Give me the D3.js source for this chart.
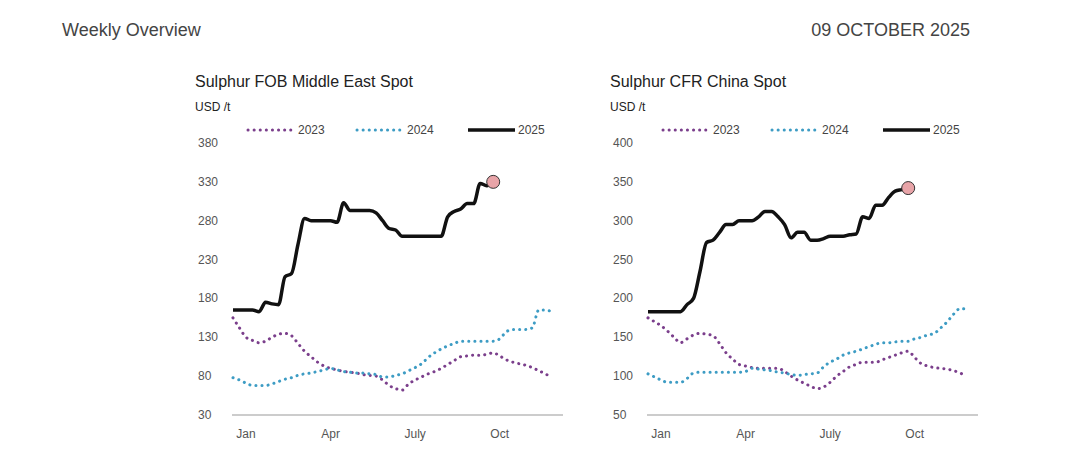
<!DOCTYPE html><html><head><meta charset="utf-8">
<script src="https://cdn.jsdelivr.net/npm/d3@7"></script>
<style>body{margin:0;background:#fff}text{font-family:"Liberation Sans",Arial,sans-serif}</style></head><body>
<svg id="c" width="1085" height="460"></svg>
<script>
const monthLabels=["Jan","Apr","July","Oct"];
const monthWeeks=[2,15,28,41];
const seriesNames=["2023","2024","2025"];
const me2023=[155,142,130,126,123,125,130,134,135,132,122,112,105,98,93,90,88,86,85,84,82,81,80,75,68,64,62,70,75,79,83,86,90,95,100,105,106,107,107,108,110,106,101,98,96,94,91,87,83,78];
const me2024=[78,75,71,68,68,68,70,73,76,78,81,83,84,86,88,90,88,86,85,84,84,83,82,79,79,81,83,87,91,96,104,110,115,119,122,125,125,125,125,125,125,128,137,140,140,140,142,165,165,163];
const me2025=[165,165,165,165,163,175,173,172,208,212,250,283,280,280,280,280,278,303,293,293,293,293,290,280,270,268,260,260,260,260,260,260,260,285,292,295,302,302,328,325,330];
const cn2023=[175,170,165,158,150,143,148,153,155,154,152,142,130,122,115,113,111,110,110,110,110,106,100,95,91,87,84,86,92,100,106,112,115,118,118,118,121,124,127,130,132,124,116,113,111,110,109,107,104,100];
const cn2024=[103,99,95,92,92,92,97,104,105,105,105,105,105,105,105,106,110,109,108,107,105,104,102,101,102,103,104,112,118,122,127,130,132,135,138,141,143,143,144,145,145,148,150,153,155,162,170,180,187,186];
const cn2025=[183,183,183,183,183,183,192,200,235,272,275,285,295,295,300,300,300,305,312,312,305,295,278,285,285,275,275,277,280,280,280,282,283,305,303,320,320,330,338,340,342];
const meTicks=[30,80,130,180,230,280,330,380];
const cnTicks=[50,100,150,200,250,300,350,400];
const svg=d3.select("#c");
svg.append("text").attr("x",62).attr("y",36).attr("font-size",18).attr("fill","#444").text("Weekly Overview");
svg.append("text").attr("x",970).attr("y",36).attr("font-size",18).attr("fill","#444").attr("text-anchor","end").text("09 OCTOBER 2025");
const colors=["#7b3f8c","#3d9cc4","#111"];
function chart(ox,title,ticks,data){
  const g=svg.append("g").attr("transform",`translate(${ox},0)`);
  const x=d3.scaleLinear().domain([0,49.5]).range([38,360]);
  const y=d3.scaleLinear().domain([ticks[0],ticks[ticks.length-1]]).range([415,143]);
  g.append("text").attr("x",0).attr("y",87).attr("font-size",16).attr("fill","#222").text(title);
  g.append("text").attr("x",0).attr("y",111).attr("font-size",12).attr("fill","#222").text("USD /t");
  ticks.forEach(t=>g.append("text").attr("x",3).attr("y",y(t)+4).attr("font-size",12).attr("fill","#555").text(t));
  g.append("line").attr("x1",37).attr("x2",368).attr("y1",415).attr("y2",415).attr("stroke","#bbb").attr("stroke-width",1.5);
  monthLabels.forEach((m,i)=>g.append("text").attr("x",x(monthWeeks[i])).attr("y",438).attr("font-size",12).attr("fill","#555").attr("text-anchor","middle").text(m));
  const line=d3.line().x((d,i)=>x(i)).y(d=>y(d)).curve(d3.curveMonotoneX);
  data.forEach((s,k)=>{
    const p=g.append("path").attr("d",line(s)).attr("fill","none").attr("stroke",colors[k]);
    if(k<2)p.attr("stroke-width",3).attr("stroke-dasharray","0.1,6").attr("stroke-linecap","round");
    else p.attr("stroke-width",3.5).attr("stroke-linejoin","round");
  });
  const last=data[2];
  g.append("circle").attr("cx",x(last.length-1)).attr("cy",y(last[last.length-1])).attr("r",6.5).attr("fill","#e8a4a8").attr("stroke","#333").attr("stroke-width",1);
  const lx=[53,162,273];
  seriesNames.forEach((n,k)=>{
    const l=g.append("line").attr("x1",lx[k]).attr("x2",lx[k]+47).attr("y1",130).attr("y2",130).attr("stroke",colors[k]);
    if(k<2)l.attr("stroke-width",3).attr("stroke-dasharray","0.1,6").attr("stroke-linecap","round");else l.attr("stroke-width",3.5);
    g.append("text").attr("x",lx[k]+50).attr("y",134).attr("font-size",12).attr("fill","#444").text(n);
  });
}
chart(195,"Sulphur FOB Middle East Spot",meTicks,[me2023,me2024,me2025]);
chart(610,"Sulphur CFR China Spot",cnTicks,[cn2023,cn2024,cn2025]);
</script></body></html>
